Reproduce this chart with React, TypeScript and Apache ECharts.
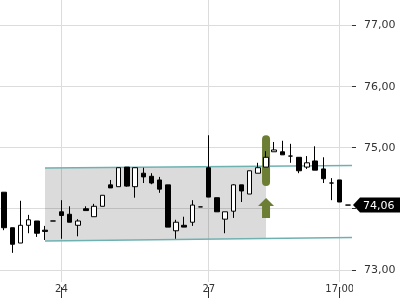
import React, { useEffect, useRef } from 'react';
import * as echarts from 'echarts';

// 43 bars, index-based categories
const categories: string[] = Array.from({ length: 43 }, (_, i) => String(i));

// x tick labels (index -> text)
const xTickIndex = [7, 25, 41];
const xTickText = ['24', '27', '17:00'];

// y tick values
const yTickValues = [73, 74, 75, 76, 77];
const yLabelValues = [73, 75, 76, 77];

// candles: [open, close, low, high]
const opens = [74.27, 73.69, 73.44, 73.73, 73.80, 73.65, 73.80, 73.95, 73.91, 73.73,
  74.00, 73.87, 74.04, 74.39, 74.36, 74.68, 74.36, 74.58, 74.53, 74.47,
  74.39, 73.64, 73.73, 73.78, 74.03, 74.67, 74.18, 73.83, 73.96, 74.39,
  74.24, 74.58, 74.68, 74.93, 74.93, 74.86, 74.84, 74.68, 74.78, 74.65,
  74.42, 74.47, 74.06];
const closes = [73.69, 73.42, 73.73, 73.82, 73.60, 73.63, 73.80, 73.89, 73.78, 73.80,
  73.97, 74.04, 74.22, 74.34, 74.67, 74.37, 74.67, 74.52, 74.42, 74.32,
  73.70, 73.78, 73.70, 74.06, 74.03, 74.19, 73.95, 73.95, 74.39, 74.29,
  74.62, 74.67, 74.84, 74.96, 74.88, 74.86, 74.62, 74.75, 74.63, 74.49,
  74.42, 74.11, 74.06];
const lows = [73.65, 73.28, 73.44, 73.60, 73.54, 73.49, 73.80, 73.51, 73.78, 73.55,
  73.97, 73.87, 74.04, 74.34, 74.36, 74.36, 74.18, 74.42, 74.40, 74.26,
  73.70, 73.51, 73.70, 73.72, 74.03, 74.19, 73.95, 73.60, 73.85, 74.11,
  74.24, 74.58, 74.68, 74.93, 74.88, 74.75, 74.58, 74.65, 74.63, 74.42,
  74.14, 74.11, 74.06];
const highs = [74.27, 73.69, 74.13, 73.90, 73.80, 73.72, 73.80, 74.14, 74.04, 73.83,
  74.04, 74.08, 74.22, 74.47, 74.67, 74.68, 74.67, 74.67, 74.58, 74.52,
  74.39, 73.82, 73.87, 74.14, 74.03, 75.20, 74.18, 73.95, 74.40, 74.39,
  74.62, 74.75, 74.94, 75.09, 75.11, 75.06, 74.84, 74.86, 75.02, 74.84,
  74.50, 74.47, 74.06];

// channel (trend lines) defined at two indices
const channelIdx = [5, 42];
const channelUpper = [74.665, 74.705];
const channelLower = [73.473, 73.53];
const boxEndIdx = 32;

// highlight pill at index with value range
const highlightIdx = 32;
const highlightRange = [74.37, 75.20];

const lastPrice = closes[closes.length - 1];

const fmt = (v: number) => v.toFixed(2).replace('.', ',');

export default function App() {
  const ref = useRef<HTMLDivElement>(null);
  useEffect(() => {
    if (!ref.current) return;
    const chart = echarts.init(ref.current, undefined, { renderer: 'svg' });
    const candleData = opens.map((o, i) => [o, closes[i], lows[i], highs[i]]);
    const showIdx = (i: number) => xTickIndex.includes(i);
    chart.setOption({
      animation: false,
      textStyle: { fontFamily: 'DejaVu Sans' },
      grid: { left: 0, right: 48, top: 0, bottom: 18 },
      xAxis: [
        {
          type: 'category',
          data: categories,
          position: 'bottom',
          boundaryGap: true,
          axisLine: { show: false },
          axisTick: { show: false },
          axisLabel: {
            interval: (i: number) => showIdx(i),
            formatter: (_v: string, i: number) => xTickText[xTickIndex.indexOf(i)] ?? '',
            margin: 1,
            fontSize: 10,
            color: '#333',
          },
          splitLine: {
            show: true,
            interval: (i: number) => showIdx(i),
            alignWithLabel: true,
            lineStyle: { color: '#dcdcdc', width: 1 },
          },
        },
        {
          type: 'category',
          data: categories,
          position: 'bottom',
          offset: 5,
          boundaryGap: true,
          axisLine: { show: false },
          axisTick: {
            show: true,
            interval: (i: number) => showIdx(i),
            alignWithLabel: true,
            length: 11,
            lineStyle: { color: '#333' },
          },
          axisLabel: { show: false },
          splitLine: { show: false },
        },
      ],
      yAxis: {
        type: 'value',
        position: 'right',
        min: 72.804,
        max: 77.408,
        axisLine: { show: false },
        axisTick: {
          show: true,
          customValues: yTickValues,
          length: 4,
          lineStyle: { color: '#333' },
        },
        axisLabel: {
          customValues: yLabelValues,
          formatter: (v: number) => fmt(v),
          margin: 12,
          fontSize: 11,
          color: '#333',
        },
        splitLine: { show: true, lineStyle: { color: '#dcdcdc', width: 1 } },
      },
      series: [
        {
          type: 'custom',
          z: 1,
          clip: false,
          silent: true,
          data: [[channelIdx[0], channelUpper[0]]],
          encode: { x: 0, y: 1 },
          renderItem: (params: any, api: any) => {
            const cs = params.coordSys;
            const right = cs.x + cs.width;
            const bottom = cs.y + cs.height;
            const u0 = api.coord([channelIdx[0], channelUpper[0]]);
            const u1 = api.coord([channelIdx[1], channelUpper[1]]);
            const l0 = api.coord([channelIdx[0], channelLower[0]]);
            const l1 = api.coord([channelIdx[1], channelLower[1]]);
            const yAt = (a: number[], b: number[], x: number) => a[1] + ((b[1] - a[1]) * (x - a[0])) / (b[0] - a[0]);
            const bx = api.coord([boxEndIdx, channelUpper[0]])[0];
            const hTop = api.coord([highlightIdx, highlightRange[1]]);
            const hBot = api.coord([highlightIdx, highlightRange[0]]);
            const hx = hTop[0];
            const hb = hBot[1];
            const ty = api.coord([channelIdx[0], lastPrice])[1];
            const teal = '#6eb1b1';
            const olive = '#6c7d34';
            return {
              type: 'group',
              children: [
                {
                  type: 'polygon',
                  shape: {
                    points: [
                      [u0[0], u0[1]],
                      [bx, yAt(u0, u1, bx)],
                      [bx, yAt(l0, l1, bx)],
                      [l0[0], l0[1]],
                    ],
                  },
                  style: { fill: 'rgba(0,0,0,0.14)' },
                },
                {
                  type: 'line',
                  shape: { x1: u0[0], y1: u0[1], x2: right, y2: yAt(u0, u1, right) },
                  style: { stroke: teal, lineWidth: 1.6 },
                },
                {
                  type: 'line',
                  shape: { x1: l0[0], y1: l0[1], x2: right, y2: yAt(l0, l1, right) },
                  style: { stroke: teal, lineWidth: 1.6 },
                },
                {
                  type: 'rect',
                  shape: { x: hx - 4, y: hTop[1], width: 8, height: hb - hTop[1], r: 4 },
                  style: { fill: olive },
                },
                {
                  type: 'polygon',
                  shape: {
                    points: [
                      [hx, hb + 12],
                      [hx + 8, hb + 20],
                      [hx + 4, hb + 20],
                      [hx + 4, hb + 32],
                      [hx - 4, hb + 32],
                      [hx - 4, hb + 20],
                      [hx - 8, hb + 20],
                    ],
                  },
                  style: { fill: olive },
                },
                {
                  type: 'rect',
                  shape: { x: right + 1, y: bottom + 1, width: 60, height: 40 },
                  style: { fill: '#fff' },
                },
                {
                  type: 'polygon',
                  shape: {
                    points: [
                      [right + 1, ty],
                      [right + 8, ty - 7.5],
                      [right + 60, ty - 7.5],
                      [right + 60, ty + 7.5],
                      [right + 8, ty + 7.5],
                    ],
                  },
                  style: { fill: '#000' },
                },
                {
                  type: 'text',
                  style: {
                    x: right + 11,
                    y: ty,
                    text: fmt(lastPrice),
                    fill: '#fff',
                    fontSize: 11,
                    fontFamily: 'DejaVu Sans',
                    verticalAlign: 'middle',
                    align: 'left',
                  },
                },
              ],
            };
          },
        },
        {
          type: 'candlestick',
          z: 2,
          data: candleData,
          barWidth: 5,
          itemStyle: {
            color: '#ffffff',
            color0: '#000000',
            borderColor: '#000000',
            borderColor0: '#000000',
            borderWidth: 1,
          },
        },
      ],
    });
    return () => chart.dispose();
  }, []);
  return <div ref={ref} style={{ position: 'fixed', left: 0, top: 0, width: 400, height: 300 }} />;
}
